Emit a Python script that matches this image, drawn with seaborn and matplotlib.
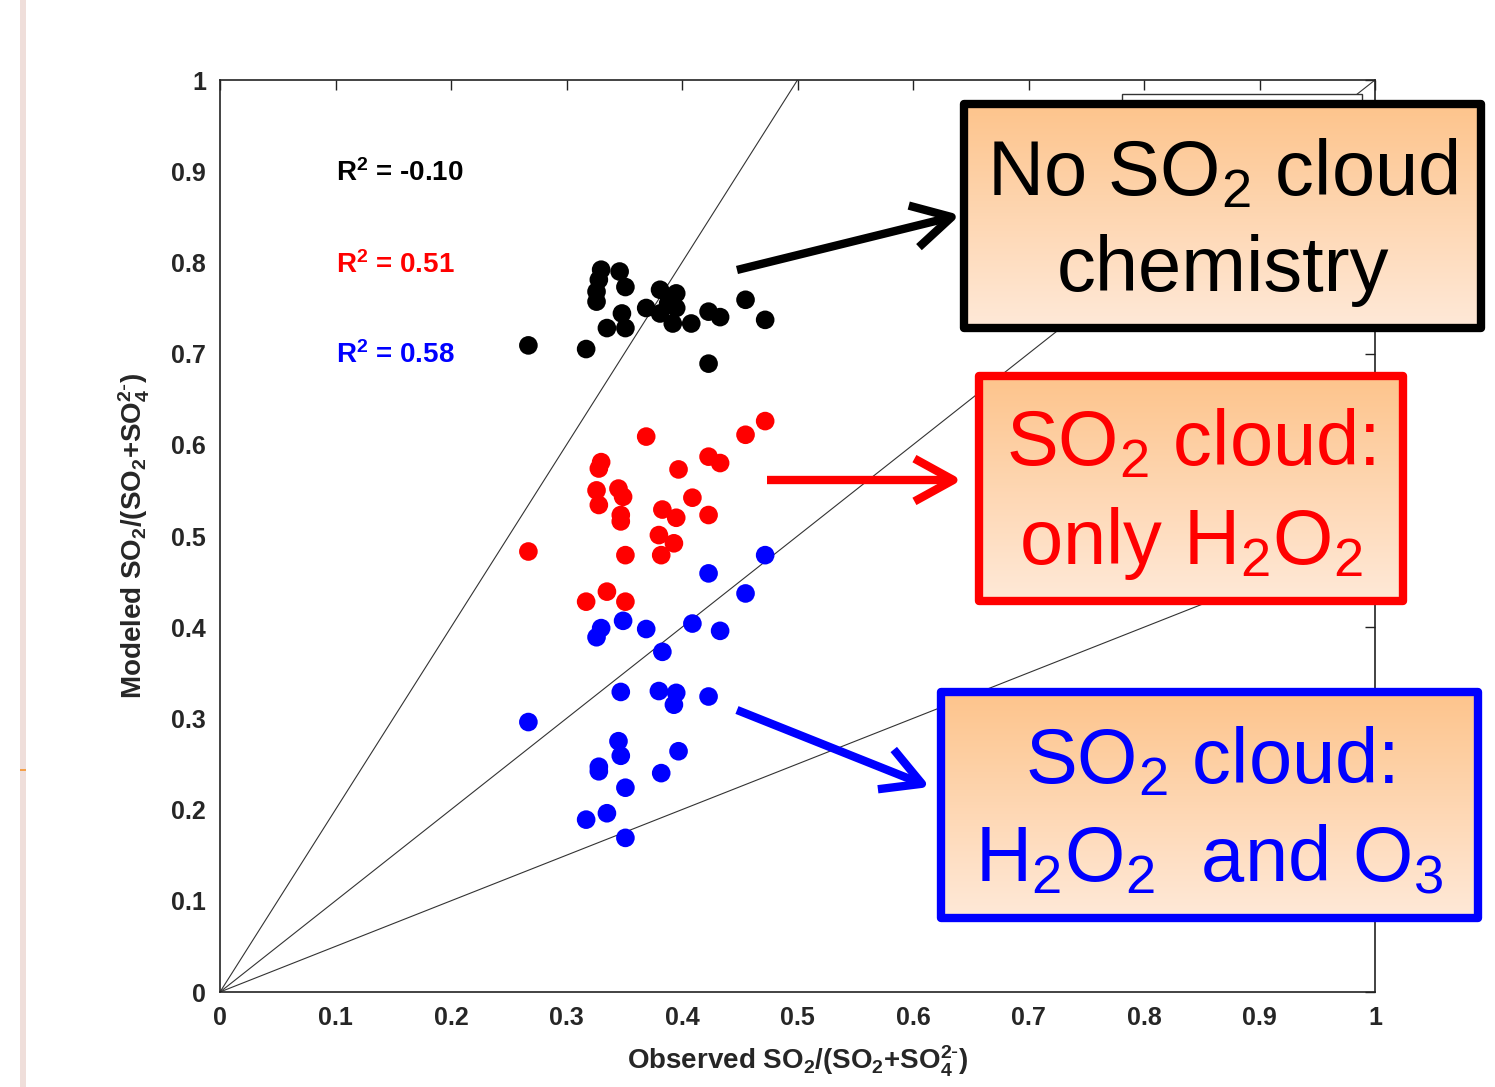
import numpy as np
import matplotlib
matplotlib.use("Agg")
import matplotlib.pyplot as plt
from matplotlib.colors import LinearSegmentedColormap
from matplotlib.patches import Rectangle, ArrowStyle
import pandas as pd
import seaborn as sns

sns.set_style('white')
plt.rcParams['font.family'] = ['Liberation Sans', 'DejaVu Sans']
plt.rcParams['mathtext.default'] = 'regular'

# observed / modeled SO2 fractions, three model configurations
obs_none = [0.267, 0.317, 0.330, 0.328, 0.326, 0.326, 0.346, 0.351, 0.348, 0.335, 0.351, 0.381,
            0.395, 0.369, 0.381, 0.395, 0.392, 0.388, 0.408, 0.423, 0.433, 0.455, 0.472, 0.423]
mod_none = [0.709, 0.705, 0.792, 0.781, 0.768, 0.757, 0.790, 0.773, 0.744, 0.728, 0.728, 0.770,
            0.766, 0.750, 0.744, 0.750, 0.733, 0.755, 0.733, 0.746, 0.740, 0.759, 0.737, 0.689]

obs_h2o2 = [0.267, 0.369, 0.472, 0.455, 0.330, 0.328, 0.326, 0.328, 0.345, 0.349, 0.347, 0.347, 0.351,
            0.397, 0.423, 0.433, 0.409, 0.383, 0.395, 0.423, 0.380, 0.393, 0.382, 0.317, 0.335, 0.351]
mod_h2o2 = [0.483, 0.609, 0.626, 0.611, 0.581, 0.574, 0.550, 0.534, 0.552, 0.543, 0.523, 0.516, 0.479,
            0.573, 0.587, 0.580, 0.542, 0.529, 0.520, 0.523, 0.501, 0.492, 0.479, 0.428, 0.439, 0.428]

obs_both = [0.472, 0.423, 0.455, 0.330, 0.326, 0.349, 0.369, 0.409, 0.433, 0.383, 0.347, 0.380, 0.395,
            0.393, 0.423, 0.267, 0.345, 0.347, 0.328, 0.328, 0.397, 0.351, 0.382, 0.317, 0.335, 0.351]
mod_both = [0.479, 0.459, 0.437, 0.399, 0.389, 0.407, 0.398, 0.404, 0.396, 0.373, 0.329, 0.330, 0.328,
            0.315, 0.324, 0.296, 0.275, 0.259, 0.247, 0.242, 0.264, 0.224, 0.240, 0.189, 0.196, 0.169]

cases = ['none', 'h2o2', 'both']
case_colors = {'none': 'black', 'h2o2': '#ff0000', 'both': '#0000ff'}
r2_labels = ['R$^2$ = -0.10', 'R$^2$ = 0.51', 'R$^2$ = 0.58']
r2_y = [0.898, 0.797, 0.698]
slopes = [2.0, 1.0, 0.5]
ticks = [0, 0.1, 0.2, 0.3, 0.4, 0.5, 0.6, 0.7, 0.8, 0.9, 1]
tick_labels = ['0', '0.1', '0.2', '0.3', '0.4', '0.5', '0.6', '0.7', '0.8', '0.9', '1']

df = pd.concat([
    pd.DataFrame({'obs': obs_none, 'mod': mod_none, 'case': 'none'}),
    pd.DataFrame({'obs': obs_h2o2, 'mod': mod_h2o2, 'case': 'h2o2'}),
    pd.DataFrame({'obs': obs_both, 'mod': mod_both, 'case': 'both'}),
])

W, H = 1495, 1087
fig = plt.figure(figsize=(W / 100, H / 100), dpi=100)

def px_box(x0, y0, x1, y1):
    # pixel box (top-left origin) -> figure fraction rect
    return [x0 / W, (H - y1) / H, (x1 - x0) / W, (y1 - y0) / H]

# slide border strip on the left
fig.patches.append(Rectangle((20 / W, 0), 6 / W, 1, transform=fig.transFigure,
                             facecolor='#efdeda', edgecolor='none'))
fig.patches.append(Rectangle((20 / W, (H - 771) / H), 6 / W, 2 / H, transform=fig.transFigure,
                             facecolor='#f4a04a', edgecolor='none'))

ax = fig.add_axes(px_box(220, 80, 1375, 992))

xl = np.array([0, 1])
for s in slopes:
    ax.plot(xl, s * xl, color='#333333', lw=0.8, zorder=1)

sns.scatterplot(data=df, x='obs', y='mod', hue='case', palette=case_colors,
                s=180, edgecolor='none', legend=False, ax=ax, zorder=3)

ax.set_xlim(0, 1)
ax.set_ylim(0, 1)
ax.set_xticks(ticks)
ax.set_xticklabels(tick_labels)
ax.set_yticks(ticks)
ax.set_yticklabels(tick_labels)
ax.tick_params(direction='in', length=7, width=1, top=True, right=True,
               labelsize=18, pad=10, color='#222222')
for lab in ax.get_xticklabels() + ax.get_yticklabels():
    lab.set_fontweight('bold')
for sp in ax.spines.values():
    sp.set_linewidth(1.2)
    sp.set_color('#222222')
label_txt = 'SO$_2$/(SO$_2$+SO$_4^{2\\text{-}}$)'
ax.set_xlabel('Observed ' + label_txt, fontsize=20, fontweight='bold', labelpad=10)
ax.set_ylabel('Modeled ' + label_txt, fontsize=20, fontweight='bold', labelpad=14)

for c, lab, yy in zip(cases, r2_labels, r2_y):
    ax.text(0.1, yy, lab, color=case_colors[c], fontsize=20, fontweight='bold', va='center', ha='left')

# hidden legend box behind the annotation
ax.add_patch(Rectangle((0.781, 0.80), 0.208, 0.185, transform=ax.transAxes,
                       facecolor='white', edgecolor='#333333', lw=1, zorder=4))

# arrows
arrow_style = ArrowStyle('->', head_length=1.0, head_width=0.55)
arrows = [((0.4476, 0.7917), (0.6407, 0.852), 'none'),
          ((0.4736, 0.5614), (0.6424, 0.5614), 'h2o2'),
          ((0.4476, 0.3092), (0.6147, 0.2248), 'both')]
for start, end, c in arrows:
    ax.annotate('', xy=end, xytext=start, xycoords='data', annotation_clip=False,
                arrowprops=dict(arrowstyle=arrow_style, color=case_colors[c], lw=6,
                                mutation_scale=28, shrinkA=0, shrinkB=0,
                                capstyle='butt', joinstyle='round'), zorder=6)

grad = LinearSegmentedColormap.from_list('g', ['#fdc48c', '#ffe9d8'])
boxes = [((964, 104, 1481, 328), 'No SO$_2$ cloud\nchemistry', 'none'),
         ((979, 376, 1403, 601), 'SO$_2$ cloud:\nonly H$_2$O$_2$', 'h2o2'),
         ((941, 692, 1478, 918), 'SO$_2$ cloud:\nH$_2$O$_2$  and O$_3$', 'both')]
for (x0, y0, x1, y1), txt, c in boxes:
    bx = fig.add_axes(px_box(x0, y0, x1, y1))
    bx.imshow(np.linspace(0, 1, 256).reshape(-1, 1), cmap=grad, aspect='auto',
              extent=[0, 1, 0, 1])
    bx.set_xlim(0, 1)
    bx.set_ylim(0, 1)
    bx.set_axis_off()
    bx.add_patch(Rectangle((0, 0), 1, 1, transform=bx.transAxes, fill=False,
                           edgecolor=case_colors[c], lw=6, joinstyle='round', clip_on=False))
    bx.text(0.5, 0.47, txt, color=case_colors[c], fontsize=56, ha='center', va='center',
            linespacing=1.4, transform=bx.transAxes)

fig.savefig('out.png', dpi=100, facecolor='white')
